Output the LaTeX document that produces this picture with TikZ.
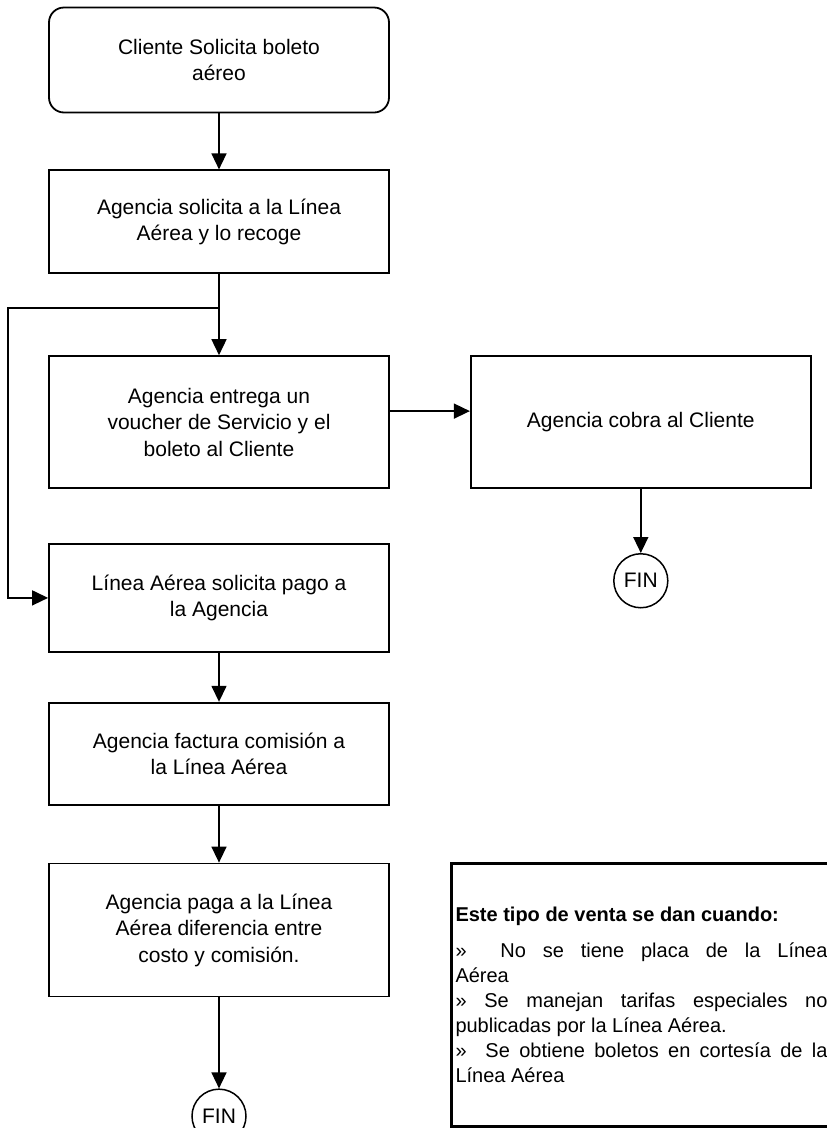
\documentclass[tikz,border=0pt]{standalone}
\usepackage{fontspec}
\setmainfont{Liberation Sans}
\usetikzlibrary{positioning,arrows.meta,calc}

\begin{document}
\begin{tikzpicture}
    [ x=1pt, y=-1pt
    , caja/.style={draw, line width=1.8pt, minimum width=340pt, align=center, font=\fontsize{21}{26.5}\selectfont}
    , inicio/.style={caja, rounded corners=15pt, minimum height=105pt}
    , fin/.style={draw, circle, line width=1.5pt, minimum size=54pt, inner sep=0pt, font=\fontsize{21}{26.5}\selectfont}
    , flecha/.style={line width=1.5pt, -{Triangle[length=16pt,width=15pt]}}
    , nota/.style={draw, line width=3pt, text width=372pt, minimum height=263pt, inner sep=4pt, align=justify, font=\fontsize{20}{25}\selectfont}
    ]
  \useasboundingbox (0,0) rectangle (827,1128);
  \node[inicio] (cli) at (219,60) {Cliente Solicita boleto\\aéreo};
  \node[caja, minimum height=103pt, below=56pt of cli] (sol) {Agencia solicita a la Línea\\Aérea y lo recoge};
  \node[caja, minimum height=132pt, below=81pt of sol] (ent) {Agencia entrega un\\voucher de Servicio y el\\boleto al Cliente};
  \node[caja, minimum height=132pt, right=80pt of ent] (cob) {Agencia cobra al Cliente};
  \node[fin, below=64pt of cob] (fin1) {FIN};
  \node[caja, minimum height=108pt, below=54pt of ent] (pag) {Línea Aérea solicita pago a\\la Agencia};
  \node[caja, minimum height=102pt, below=49pt of pag] (fac) {Agencia factura comisión a\\la Línea Aérea};
  \node[caja, minimum height=133pt, below=57pt of fac] (dif) {Agencia paga a la Línea\\Aérea diferencia entre\\costo y comisión.};
  \node[fin, below=91pt of dif] (fin2) {FIN};
  \node[nota, anchor=north west] (nota) at (450,862)
    {\tolerance=10000 \textbf{Este tipo de venta se dan cuando:}\\[11pt]
     »\ \ No se tiene placa de la Línea\linebreak Aérea\\
     » Se manejan tarifas especiales no\linebreak publicadas por la Línea Aérea.\\
     » Se obtiene boletos en cortesía de la\linebreak Línea Aérea\par\vspace{20pt}};

  % conectores
  \coordinate[below=34pt of sol.south] (union);
  \coordinate (lado) at (8,0);
  \draw[flecha] (cli) -- (sol);
  \draw[flecha] (sol) -- (ent);
  \draw[flecha] (union) -- (union -| lado) |- (pag.west);
  \draw[flecha] ([yshift=11pt]ent.east) -- ([yshift=11pt]cob.west);
  \draw[flecha] (cob) -- (fin1);
  \draw[flecha] (pag) -- (fac);
  \draw[flecha] (fac) -- (dif);
  \draw[flecha] (dif) -- (fin2);
\end{tikzpicture}
\end{document}
